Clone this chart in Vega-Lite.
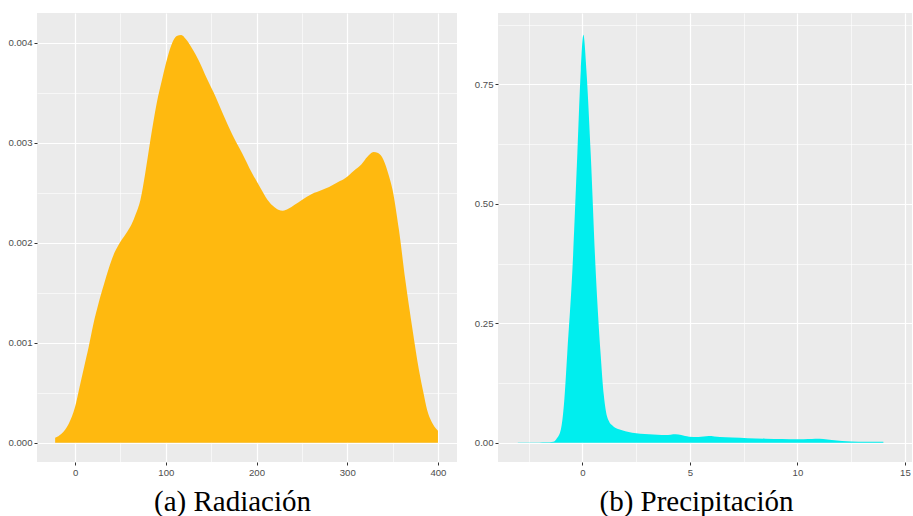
{
  "$schema": "https://vega.github.io/schema/vega-lite/v6.json",
  "padding": {"left": 7, "top": 13, "right": 0, "bottom": 0},
  "background": "white",
  "spacing": 17,
  "datasets": {
    "rad": [
      {"x": -22, "y": 0.00005}, {"x": -15, "y": 0.00009}, {"x": -7, "y": 0.00019}, {"x": 0, "y": 0.00036},
      {"x": 5, "y": 0.00056}, {"x": 10, "y": 0.00076}, {"x": 15, "y": 0.00096}, {"x": 20, "y": 0.00118},
      {"x": 26, "y": 0.0014}, {"x": 32, "y": 0.00159}, {"x": 37, "y": 0.00174}, {"x": 42, "y": 0.00187},
      {"x": 48, "y": 0.00198}, {"x": 56, "y": 0.00209}, {"x": 62, "y": 0.00218}, {"x": 67, "y": 0.00229},
      {"x": 72, "y": 0.00243}, {"x": 77, "y": 0.00268}, {"x": 83, "y": 0.00303}, {"x": 90, "y": 0.0034},
      {"x": 96, "y": 0.00364}, {"x": 102, "y": 0.00386}, {"x": 107, "y": 0.004}, {"x": 112, "y": 0.00407},
      {"x": 117, "y": 0.00408}, {"x": 122, "y": 0.00404}, {"x": 130, "y": 0.00393}, {"x": 136, "y": 0.00383},
      {"x": 145, "y": 0.00365}, {"x": 155, "y": 0.00346}, {"x": 164, "y": 0.00327}, {"x": 173, "y": 0.00309},
      {"x": 184, "y": 0.0029}, {"x": 195, "y": 0.0027}, {"x": 205, "y": 0.00254}, {"x": 210, "y": 0.00246},
      {"x": 218, "y": 0.00237}, {"x": 224, "y": 0.00233}, {"x": 229, "y": 0.00232}, {"x": 235, "y": 0.00234},
      {"x": 242, "y": 0.00238}, {"x": 250, "y": 0.00243}, {"x": 261, "y": 0.00249}, {"x": 272, "y": 0.00253},
      {"x": 280, "y": 0.00256}, {"x": 290, "y": 0.00261}, {"x": 298, "y": 0.00265}, {"x": 307, "y": 0.00272},
      {"x": 316, "y": 0.00279}, {"x": 322, "y": 0.00286}, {"x": 329, "y": 0.00291}, {"x": 334, "y": 0.0029},
      {"x": 340, "y": 0.00283}, {"x": 345, "y": 0.0027}, {"x": 350, "y": 0.00253}, {"x": 357, "y": 0.00213},
      {"x": 364, "y": 0.00163}, {"x": 372, "y": 0.00113}, {"x": 379, "y": 0.00073}, {"x": 384, "y": 0.0005},
      {"x": 388, "y": 0.00033}, {"x": 393, "y": 0.00021}, {"x": 399, "y": 0.00013}, {"x": 400, "y": 0.00012}
    ],
    "prec": [
      {"x": -3.0, "y": 0.0006}, {"x": -2.0, "y": 0.0006}, {"x": -1.7, "y": 0.0008}, {"x": -1.35, "y": 0.002},
      {"x": -1.2, "y": 0.008}, {"x": -1.0, "y": 0.027}, {"x": -0.85, "y": 0.082}, {"x": -0.7, "y": 0.187},
      {"x": -0.46, "y": 0.362}, {"x": -0.23, "y": 0.606}, {"x": -0.07, "y": 0.78}, {"x": 0.05, "y": 0.854},
      {"x": 0.19, "y": 0.78}, {"x": 0.39, "y": 0.606}, {"x": 0.62, "y": 0.362}, {"x": 0.85, "y": 0.187},
      {"x": 1.0, "y": 0.1}, {"x": 1.09, "y": 0.068}, {"x": 1.24, "y": 0.045}, {"x": 1.4, "y": 0.036},
      {"x": 1.7, "y": 0.028}, {"x": 2.0, "y": 0.024}, {"x": 2.32, "y": 0.021}, {"x": 2.7, "y": 0.019},
      {"x": 3.1, "y": 0.0176}, {"x": 3.5, "y": 0.0165}, {"x": 3.87, "y": 0.016}, {"x": 4.34, "y": 0.0176},
      {"x": 4.6, "y": 0.016}, {"x": 4.96, "y": 0.0126}, {"x": 5.4, "y": 0.012}, {"x": 5.88, "y": 0.014},
      {"x": 6.4, "y": 0.012}, {"x": 6.97, "y": 0.011}, {"x": 7.7, "y": 0.0095}, {"x": 8.52, "y": 0.0084},
      {"x": 9.3, "y": 0.0075}, {"x": 10.06, "y": 0.007}, {"x": 10.5, "y": 0.0075}, {"x": 10.84, "y": 0.0084},
      {"x": 11.2, "y": 0.008}, {"x": 11.6, "y": 0.0056}, {"x": 12.08, "y": 0.0035}, {"x": 12.5, "y": 0.0025},
      {"x": 13.2, "y": 0.002}, {"x": 14.0, "y": 0.002}
    ]
  },
  "hconcat": [
    {
      "width": 420,
      "height": 449,
      "data": {"name": "rad"},
      "mark": {"type": "area", "color": "#FFB90F", "interpolate": "monotone"},
      "encoding": {
        "x": {
          "field": "x", "type": "quantitative",
          "scale": {"domain": [-42, 421], "nice": false, "zero": false},
          "axis": {
            "values": [0, 50, 100, 150, 200, 250, 300, 350, 400],
            "format": "d",
            "labelExpr": "datum.value % 100 === 0 ? datum.label : ''",
            "tickOpacity": {"condition": {"test": "datum.value % 100 === 0", "value": 1}, "value": 0},
            "gridWidth": {"condition": {"test": "datum.value % 100 === 0", "value": 1.2}, "value": 0.6},
            "title": "(a) Radiación",
            "titleX": 195,
            "titleY": 48,
            "titleAlign": "center",
            "titleBaseline": "alphabetic"
          }
        },
        "y": {
          "field": "y", "type": "quantitative",
          "scale": {"domain": [-0.000193, 0.0043], "nice": false, "zero": false},
          "axis": {
            "values": [0, 0.0005, 0.001, 0.0015, 0.002, 0.0025, 0.003, 0.0035, 0.004],
            "format": ".3f",
            "labelExpr": "abs(datum.value*1000 - round(datum.value*1000)) < 1e-6 ? datum.label : ''",
            "tickOpacity": {"condition": {"test": "abs(datum.value*1000 - round(datum.value*1000)) < 1e-6", "value": 1}, "value": 0},
            "gridWidth": {"condition": {"test": "abs(datum.value*1000 - round(datum.value*1000)) < 1e-6", "value": 1.2}, "value": 0.6},
            "title": null
          }
        }
      }
    },
    {
      "width": 414,
      "height": 449,
      "data": {"name": "prec"},
      "mark": {"type": "area", "color": "#00EEEE", "interpolate": "monotone"},
      "encoding": {
        "x": {
          "field": "x", "type": "quantitative",
          "scale": {"domain": [-3.92, 15.33], "nice": false, "zero": false},
          "axis": {
            "values": [-2.5, 0, 2.5, 5, 7.5, 10, 12.5, 15],
            "format": "d",
            "labelExpr": "datum.value % 5 === 0 ? datum.label : ''",
            "tickOpacity": {"condition": {"test": "datum.value % 5 === 0", "value": 1}, "value": 0},
            "gridWidth": {"condition": {"test": "datum.value % 5 === 0", "value": 1.2}, "value": 0.6},
            "title": "(b) Precipitación",
            "titleX": 198,
            "titleY": 48,
            "titleAlign": "center",
            "titleBaseline": "alphabetic"
          }
        },
        "y": {
          "field": "y", "type": "quantitative",
          "scale": {"domain": [-0.0404, 0.8997], "nice": false, "zero": false},
          "axis": {
            "values": [0, 0.125, 0.25, 0.375, 0.5, 0.625, 0.75, 0.875],
            "format": ".2f",
            "labelExpr": "abs(datum.value*4 - round(datum.value*4)) < 1e-6 ? datum.label : ''",
            "tickOpacity": {"condition": {"test": "abs(datum.value*4 - round(datum.value*4)) < 1e-6", "value": 1}, "value": 0},
            "gridWidth": {"condition": {"test": "abs(datum.value*4 - round(datum.value*4)) < 1e-6", "value": 1.2}, "value": 0.6},
            "title": null
          }
        }
      }
    }
  ],
  "config": {
    "view": {"fill": "#EBEBEB", "stroke": null},
    "axis": {
      "domain": false,
      "grid": true,
      "gridColor": "#FFFFFF",
      "labelColor": "#4D4D4D",
      "labelFont": "Liberation Sans",
      "labelFontSize": 9.6,
      "labelPadding": 2,
      "tickColor": "#333333",
      "tickSize": 3,
      "tickWidth": 1,
      "titleFont": "Liberation Serif",
      "titleFontSize": 29,
      "titleFontWeight": "normal",
      "titleColor": "#000000"
    }
  }
}
